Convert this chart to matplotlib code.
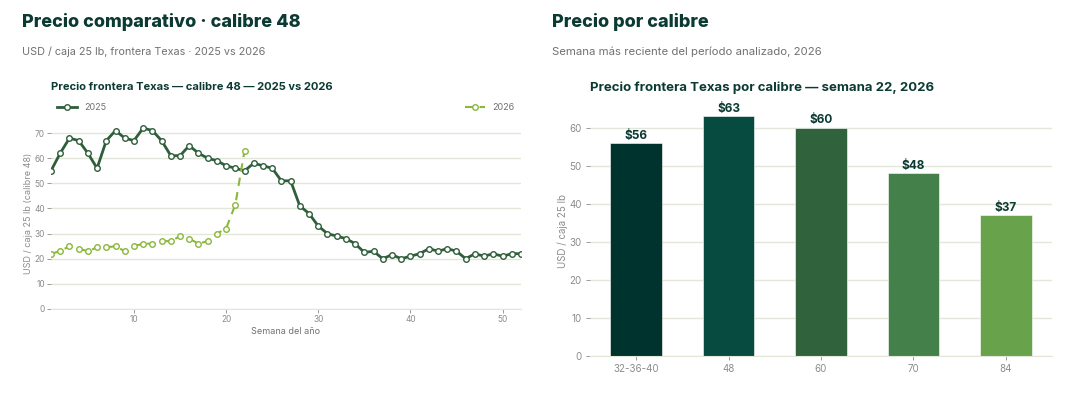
import matplotlib.pyplot as plt

weeks_2025 = list(range(1, 53))
price_2025 = [55, 62, 68, 67, 62, 56, 67, 71, 68, 67, 72, 71, 67, 61, 61, 65,
              62, 60, 59, 57, 56, 55, 58, 57, 56, 51, 51, 41, 38, 33, 30, 29,
              28, 26, 22.5, 23, 20, 21.6, 20, 21, 22, 24, 23, 24, 23, 20, 22,
              21, 22, 21, 22, 22]
weeks_2026 = list(range(1, 23))
price_2026 = [22, 23, 25, 24, 23, 24.5, 24.5, 25, 23, 25, 26, 26, 27, 27, 29,
              28, 26, 27, 30, 32, 41.5, 63]

calibres = ['32-36-40', '48', '60', '70', '84']
calibre_price = [56, 63, 60, 48, 37]
bar_colors = ['#01332e', '#064a40', '#30623c', '#43804a', '#68a24a']

DARK = '#0b3a32'
GREY = '#6f7370'
TICK = '#8a8d89'
GRID = '#e3e7da'

plt.rcParams['font.family'] = ['Inter', 'DejaVu Sans']

fig = plt.figure(figsize=(10.78, 4.07), dpi=100)

# panel headings
fig.text(22 / 1078, 1 - 22 / 407, 'Precio comparativo · calibre 48', fontsize=13,
         fontweight='heavy', color=DARK, va='center')
fig.text(22 / 1078, 1 - 52 / 407, 'USD / caja 25 lb, frontera Texas · 2025 vs 2026',
         fontsize=7.8, color=GREY, va='center')
fig.text(552 / 1078, 1 - 22 / 407, 'Precio por calibre', fontsize=13,
         fontweight='heavy', color=DARK, va='center')
fig.text(552 / 1078, 1 - 52 / 407, 'Semana más reciente del período analizado, 2026',
         fontsize=8.2, color=GREY, va='center')


def style(ax, fs, pad):
    for s in ax.spines.values():
        s.set_visible(False)
    ax.spines['bottom'].set_visible(True)
    ax.spines['bottom'].set_color(GRID)
    ax.grid(axis='y', color=GRID, linewidth=1)
    ax.set_axisbelow(True)
    ax.tick_params(colors=TICK, labelsize=fs, length=3, width=0.6, pad=pad)


# left: line chart
ax1 = fig.add_axes([51 / 1078, 1 - 309 / 407, 470 / 1078, 191 / 407])
style(ax1, 6, 1.5)
ax1.plot(weeks_2025, price_2025, color='#2e5e3a', lw=2, marker='o', ms=4,
         mfc='white', mec='#2e5e3a', mew=1, label='2025')
ax1.plot(weeks_2026, price_2026, color='#8ab83a', lw=1.5, ls=(0, (4, 3)),
         marker='o', ms=4, mfc='white', mec='#8ab83a', mew=1, label='2026')
ax1.set_xlim(1, 52)
ax1.set_ylim(0, 76)
ax1.set_xticks([10, 20, 30, 40, 50])
ax1.set_yticks(range(0, 80, 10))
ax1.set_xlabel('Semana del año', fontsize=6.5, color=GREY, labelpad=2)
ax1.set_ylabel('USD / caja 25 lb (calibre 48)', fontsize=6.5, color=TICK, labelpad=0.5)
ax1.set_title('Precio frontera Texas — calibre 48 — 2025 vs 2026', loc='left',
              fontsize=8, fontweight='bold', color=DARK, pad=20)
ax1.legend(loc='lower left', bbox_to_anchor=(0, 1.0, 1, 0.1), ncol=2, mode='expand',
           frameon=False, fontsize=6.5, labelcolor=GREY, handlelength=2.2,
           borderaxespad=0.3)

# right: bar chart
ax2 = fig.add_axes([590 / 1078, 1 - 356 / 407, 462 / 1078, 251 / 407])
style(ax2, 7, 3)
x = range(len(calibres))
bars = ax2.bar(x, calibre_price, width=0.56, color=bar_colors, edgecolor='white',
               linewidth=0.4)
for b, v in zip(bars, calibre_price):
    ax2.text(b.get_x() + b.get_width() / 2, v + 0.4, f'${v}', ha='center',
             va='bottom', fontsize=8.5, fontweight='bold', color=DARK)
ax2.set_xticks(list(x), calibres)
ax2.set_xlim(-0.5, 4.5)
ax2.set_ylim(0, 66)
ax2.set_yticks(range(0, 70, 10))
ax2.set_ylabel('USD / caja 25 lb', fontsize=7, color=TICK, labelpad=1)
ax2.set_title('Precio frontera Texas por calibre — semana 22, 2026', loc='left',
              fontsize=9.5, fontweight='bold', color=DARK, pad=10)

fig.savefig('out.png', dpi=100)
